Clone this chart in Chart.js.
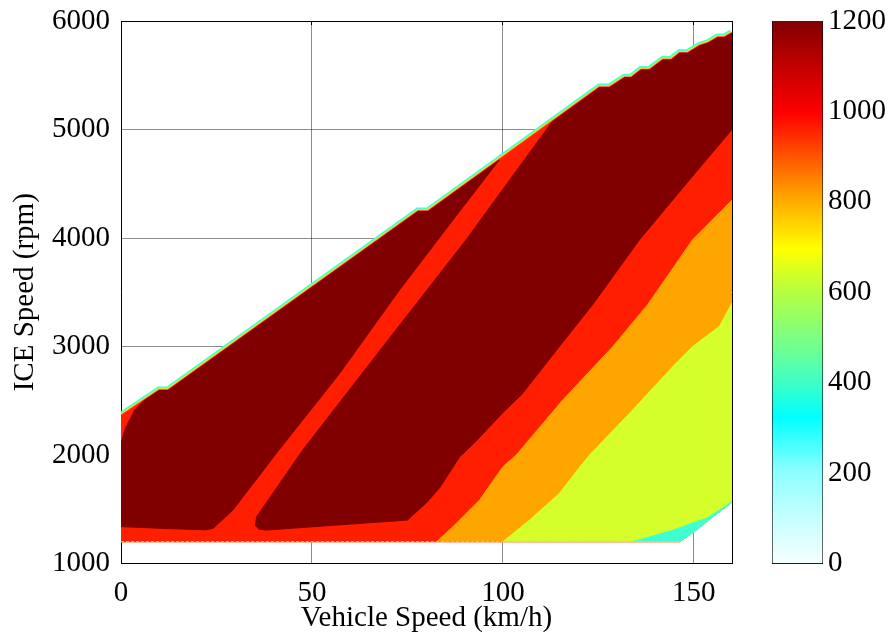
<!DOCTYPE html>
<html>
<head>
<meta charset="utf-8">
<script src="https://cdn.jsdelivr.net/npm/chart.js@4.4.1/dist/chart.umd.min.js"></script>
<style>
  html, body { margin: 0; padding: 0; background: #fff; }
  #wrap { position: relative; width: 896px; height: 641px; }
  #wrap canvas { position: absolute; top: 0; }
</style>
</head>
<body>
<div id="wrap">
  <canvas id="map" width="896" height="641" style="left:0"></canvas>
  <canvas id="bar" width="156" height="641" style="left:740px"></canvas>
</div>
<script>
const speedTicks = [0, 50, 100, 150]
const rpmTicks = [1000, 2000, 3000, 4000, 5000, 6000]
const powerTicks = [0, 200, 400, 600, 800, 1000, 1200]

// contour boundaries, [vehicle speed km/h, ICE speed rpm]
const topEdge = [
  [0, 2360], [10, 2595], [12.3, 2595], [77.8, 4245], [80.4, 4245],
  [125.3, 5386], [127.9, 5386], [131.9, 5478], [133.6, 5478], [136.2, 5549],
  [138.4, 5549], [141.9, 5641], [144.1, 5641], [146.3, 5703], [148.4, 5703],
  [151.5, 5771], [153.7, 5795], [156.3, 5848], [158, 5848], [160, 5888],
]
const lowerEdge = [[146.3, 1200], [150.6, 1307], [153.3, 1384], [160, 1565]]
const floorLine = [[0, 1200], [146.3, 1200]]

const cornerEdge = [[0, 2110], [1.2, 2250], [3.6, 2415], [6, 2501]]
const bandLeftEdge = [
  [99, 4717], [88.7, 4247], [73, 3524], [57.3, 2754], [40.7, 2016], [29.3, 1492], [24.1, 1323],
]
const leftFloor = [[22, 1310], [10, 1325], [0, 1340]]

const bandRightEdge = [
  [35.2, 1345], [35.5, 1430], [47.6, 2046], [68.6, 3000], [90.4, 3985], [104.4, 4662], [112.9, 5070],
]
const darkRightEdge = [
  [160, 5000], [149.7, 4570], [135.8, 3985], [123.6, 3390], [114.8, 3000], [105, 2560],
  [100, 2390], [92.5, 2110], [88.7, 1984], [83.5, 1700], [80, 1560], [75, 1400],
]
const midFloor = [[50, 1338], [38, 1308], [36, 1318]]

const orangeEdge = [
  [82.6, 1200], [86.9, 1338], [93.9, 1585], [100, 1892], [103.5, 2000], [115.7, 2508],
  [128.8, 3000], [138, 3390], [149.7, 3985], [160, 4350],
]
const yellowEdge = [
  [100, 1200], [107, 1400], [114.8, 1646], [120.9, 1923], [122.7, 2000], [134, 2415],
  [144.5, 2815], [149.7, 3000], [156.7, 3185], [160, 3400],
]
const aquaEdge = [[134, 1200], [144.5, 1307], [150.6, 1384], [153.3, 1415], [160, 1569]]

const closeDown = lowerEdge.slice().reverse()
const feasible = [...topEdge, ...closeDown, [0, 1200]]
const darkA = [...cornerEdge, ...topEdge.filter(p => p[0] > 6 && p[0] < 99), ...bandLeftEdge, ...leftFloor]
const darkB = [...bandRightEdge, ...topEdge.filter(p => p[0] > 112.9), ...darkRightEdge, ...midFloor]
const orangeArea = [...orangeEdge, ...closeDown]
const yellowArea = [...yellowEdge, ...closeDown]
const aquaArea = [...aquaEdge, ...closeDown]

const serif = 'Liberation Serif'
const fontSize = 29

const xy = pts => pts.map(([x, y]) => ({ x: x, y: y }))

function area(pts, color, order) {
  return {
    data: xy(pts), backgroundColor: color, borderColor: color, borderWidth: 1,
    fill: 'shape', pointRadius: 0, tension: 0, order: order, clip: 0,
  }
}
function stroke(pts, color, width, order, dash) {
  return {
    data: xy(pts), borderColor: color, borderWidth: width, borderDash: dash || [],
    fill: false, pointRadius: 0, tension: 0, order: order, clip: 0,
  }
}

const fixTicks = values => scale => { scale.ticks = values.map(v => ({ value: v })) }
// keep the plot box where the layout padding puts it
const sizeY = w => s => { s.width = w; s.paddingTop = 0; s.paddingBottom = 0 }
const sizeX = h => s => { s.height = h; s.paddingLeft = 0; s.paddingRight = 0 }
const plain = v => String(v)

// plain black frame side with small inward tick marks
function frame(position, min, max, values, fit) {
  return {
    type: 'linear', position: position, min: min, max: max, z: 1,
    afterBuildTicks: values ? fixTicks(values) : undefined,
    afterFit: fit,
    grid: { drawOnChartArea: false, drawTicks: !!values, tickLength: -4, color: '#000' },
    border: { display: true, color: '#000', width: 1 },
    ticks: { display: false },
  }
}

const map = new Chart(document.getElementById('map'), {
  type: 'line',
  data: {
    datasets: [
      stroke(topEdge, '#40ffe0', 8, 20),
      stroke(topEdge, '#ffe600', 4.5, 19),
      stroke(topEdge, '#ff4a00', 2.5, 18),
      area(feasible, '#ff1e00', 10),
      area(darkA, '#800000', 9),
      area(darkB, '#800000', 8),
      area(orangeArea, '#ffa500', 7),
      area(yellowArea, '#d4ff2b', 6),
      area(aquaArea, '#3dffd2', 5),
      stroke(floorLine, '#ffd24a', 1, 4, [3, 2]),
    ],
  },
  options: {
    responsive: false,
    animation: false,
    events: [],
    layout: { padding: { top: 21, right: 164, left: 0, bottom: 0 } },
    plugins: { legend: { display: false }, tooltip: { enabled: false } },
    scales: {
      x: {
        type: 'linear', min: 0, max: 160, z: 1,
        afterBuildTicks: fixTicks(speedTicks),
        afterFit: sizeX(77.5),
        grid: { color: 'rgba(0,0,0,0.45)', drawTicks: false },
        border: { color: '#000', width: 1 },
        ticks: { color: '#000', padding: 12, callback: plain, font: { family: serif, size: fontSize } },
        title: {
          display: true, text: 'Vehicle Speed (km/h)', color: '#000',
          padding: { top: 0, bottom: 5 }, font: { family: serif, size: fontSize },
        },
      },
      x2: frame('top', 0, 160, speedTicks, sizeX(0)),
      y: {
        type: 'linear', min: 1000, max: 6000, z: 1,
        afterBuildTicks: fixTicks(rpmTicks),
        afterFit: sizeY(121),
        grid: { color: 'rgba(0,0,0,0.45)', drawTicks: false },
        border: { color: '#000', width: 1 },
        ticks: { color: '#000', padding: 11, callback: plain, font: { family: serif, size: fontSize } },
        title: {
          display: true, text: 'ICE Speed (rpm)', color: '#000',
          padding: { top: 8, bottom: 0 }, font: { family: serif, size: fontSize },
        },
      },
      y2: frame('right', 1000, 6000, rpmTicks, sizeY(0)),
    },
  },
})

// colour scale beside the map
const cmapStops = [
  [0, '#f5ffff'], [0.08, '#c8ffff'], [0.17, '#8cffff'], [0.27, '#00ffff'],
  [0.33, '#3cffc8'], [0.42, '#80ff80'], [0.5, '#b4ff40'], [0.58, '#ffff00'],
  [0.67, '#ffaa00'], [0.75, '#ff5500'], [0.83, '#ff0000'], [0.92, '#c00000'], [1, '#800000'],
]

function cmapFill(ctx) {
  const area = ctx.chart.chartArea
  if (!area) return '#fff'
  const g = ctx.chart.ctx.createLinearGradient(0, area.bottom, 0, area.top)
  cmapStops.forEach(([t, c]) => g.addColorStop(t, c))
  return g
}

const bar = new Chart(document.getElementById('bar'), {
  type: 'bar',
  data: {
    labels: [''],
    datasets: [{
      data: [[powerTicks[0], powerTicks[powerTicks.length - 1]]],
      backgroundColor: cmapFill,
      borderWidth: 0,
      barPercentage: 1, categoryPercentage: 1,
    }],
  },
  options: {
    responsive: false,
    animation: false,
    events: [],
    layout: { padding: { top: 21, right: 0, left: 32.5, bottom: 77.5 } },
    plugins: { legend: { display: false }, tooltip: { enabled: false } },
    scales: {
      x: {
        display: true, z: 1, afterFit: sizeX(0),
        grid: { display: false }, ticks: { display: false },
        border: { display: true, color: '#000', width: 1 },
      },
      xt: {
        type: 'category', position: 'top', z: 1, afterFit: sizeX(0),
        grid: { display: false }, ticks: { display: false },
        border: { display: true, color: '#000', width: 1 },
      },
      y: {
        position: 'right', min: 0, max: 1200, z: 1,
        afterBuildTicks: fixTicks(powerTicks),
        afterFit: sizeY(73.5),
        grid: { drawOnChartArea: false, tickLength: -4, color: '#000' },
        border: { display: true, color: '#000', width: 1 },
        ticks: { color: '#000', padding: 9.5, callback: plain, font: { family: serif, size: fontSize } },
      },
      yl: frame('left', 0, 1200, powerTicks, sizeY(0)),
    },
  },
})
</script>
</body>
</html>
